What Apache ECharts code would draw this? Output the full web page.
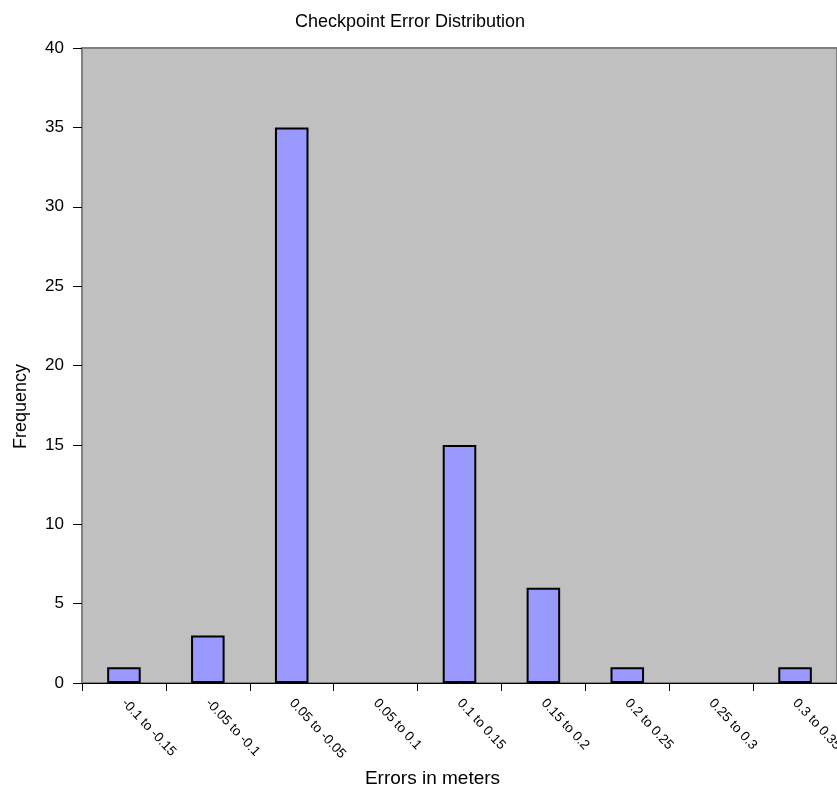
<!DOCTYPE html>
<html>
<head>
<meta charset="utf-8">
<script src="https://cdn.jsdelivr.net/npm/echarts@6/dist/echarts.min.js"></script>
<style>
html,body{margin:0;padding:0;background:#fff;}
#chart{width:837px;height:800px;}
</style>
</head>
<body>
<div id="chart"></div>
<script>
// Error bins and their counts
const binLabels = ['-0.1 to -0.15', '-0.05 to -0.1', '0.05 to -0.05', '0.05 to 0.1', '0.1 to 0.15', '0.15 to 0.2', '0.2 to 0.25', '0.25 to 0.3', '0.3 to 0.35'];
const frequencies = [1, 3, 35, 0, 15, 6, 1, 0, 1];
const yTicks = { min: 0, max: 40, interval: 5 };

const chart = echarts.init(document.getElementById('chart'));
const font = 'Liberation Sans, Arial, sans-serif';
chart.setOption({
  animation: false,
  backgroundColor: '#ffffff',
  title: {
    text: 'Checkpoint Error Distribution',
    left: 405, top: 8, textAlign: 'center',
    textStyle: { fontFamily: font, fontSize: 18, fontWeight: 'normal', color: '#000' }
  },
  grid: {
    left: 82, top: 48, width: 755, height: 635,
    outerBoundsMode: 'none',
    show: true, backgroundColor: '#C0C0C0', borderColor: '#808080', borderWidth: 2,
    containLabel: false
  },
  xAxis: {
    type: 'category',
    data: binLabels,
    name: 'Errors in meters',
    nameLocation: 'middle',
    nameGap: 86,
    nameMoveOverlap: false,
    nameTextStyle: { fontFamily: font, fontSize: 19, color: '#000', padding: [0, 54, 0, 0] },
    axisLine: { show: true, lineStyle: { color: '#000', width: 1 } },
    axisTick: { show: true, alignWithLabel: false, length: 8, lineStyle: { color: '#000' } },
    axisLabel: { rotate: -47, margin: 18, fontFamily: font, fontSize: 13.5, color: '#000', interval: 0 },
    splitLine: { show: false }
  },
  yAxis: {
    type: 'value',
    min: yTicks.min, max: yTicks.max, interval: yTicks.interval,
    name: 'Frequency',
    nameLocation: 'middle',
    nameGap: 52,
    nameMoveOverlap: false,
    nameTextStyle: { fontFamily: font, fontSize: 18, color: '#000', padding: [0, 0, 0, -82] },
    axisLine: { show: false },
    axisTick: { show: true, length: 9, lineStyle: { color: '#000' } },
    axisLabel: { margin: 18, fontFamily: font, fontSize: 17, color: '#000' },
    splitLine: { show: false }
  },
  series: [{
    type: 'bar',
    // empty bins get no bar outline
    data: frequencies.map(v => (v === 0 ? '-' : v)),
    barWidth: '40%',
    itemStyle: { color: '#9999FF', borderColor: '#000', borderWidth: 2 }
  }]
});
</script>
</body>
</html>
